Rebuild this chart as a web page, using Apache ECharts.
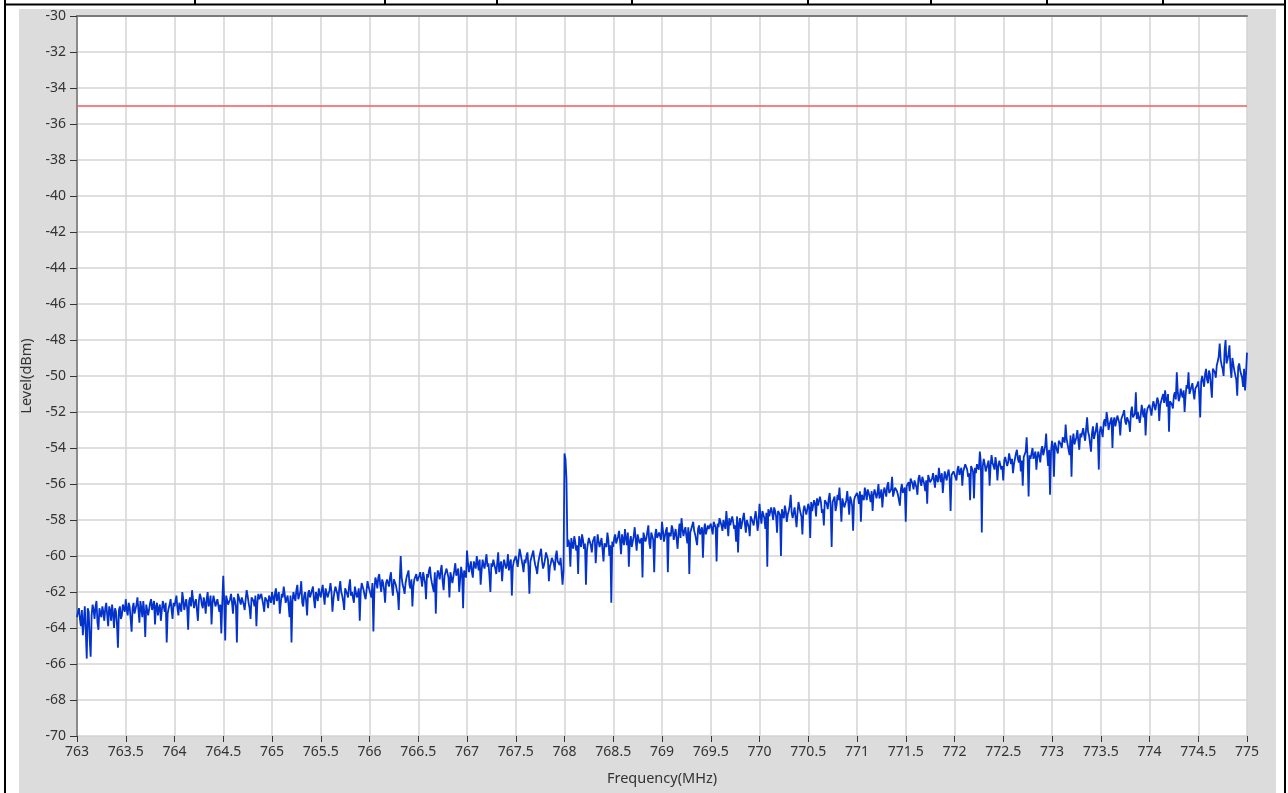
<!DOCTYPE html>
<html>
<head>
<meta charset="utf-8">
<script src="https://cdn.jsdelivr.net/npm/echarts@6/dist/echarts.min.js"></script>
<style>
html,body{margin:0;padding:0;background:#fff;}
#chart{width:1288px;height:793px;}
</style>
</head>
<body>
<div id="chart"></div>
<script>
// ---- data ----
const freqStart = 763.0;      // MHz, first sample
const freqStep = 0.01;        // MHz between samples (after interleaving)
const limitLevel = -35;       // dBm limit line
const xTicks = {min: 763, max: 775, interval: 0.5};
const yTicks = {min: -70, max: -30, interval: 2};
// measured level (dBm) at 763.00, 763.02, ... 775.00 (rows of 0.5 MHz)
const levelEven = [
-63.4,-62.9,-63.9,-64.4,-62.8,-65.7,-63.1,-65.6,-62.7,-63.5,-62.5,-64.1,-63.2,-62.8,-63.6,-62.6,-63.9,-63.0,-62.7,-64.0,-63.1,-65.1,-62.8,-63.3,-62.9,
-62.4,-63.3,-62.8,-64.2,-62.6,-63.1,-62.3,-63.7,-62.9,-62.5,-64.5,-62.8,-63.2,-62.4,-63.0,-63.8,-62.6,-62.9,-63.6,-62.5,-63.1,-64.8,-62.9,-62.4,-63.5,
-62.8,-62.2,-63.3,-62.5,-62.0,-63.0,-62.4,-64.1,-62.3,-61.9,-62.9,-62.4,-63.6,-62.1,-62.7,-62.3,-63.2,-62.0,-62.6,-63.8,-62.2,-62.8,-62.4,-63.1,-64.3,
-61.1,-64.7,-62.3,-62.8,-62.1,-63.2,-62.5,-64.8,-62.0,-62.7,-62.3,-63.0,-61.9,-62.6,-63.5,-62.2,-62.8,-63.9,-62.1,-62.5,-62.0,-63.1,-62.4,-62.9,-62.2,
-62.0,-62.7,-61.8,-62.4,-63.2,-62.1,-61.7,-62.6,-62.2,-63.4,-64.8,-62.0,-62.5,-61.6,-62.3,-61.4,-62.8,-62.0,-63.3,-61.9,-62.4,-61.7,-62.9,-62.2,-61.8,
-62.3,-61.6,-62.7,-61.9,-62.4,-61.5,-63.1,-62.0,-61.7,-62.5,-61.4,-62.2,-63.0,-61.8,-62.3,-61.3,-62.0,-62.6,-61.6,-62.1,-63.6,-61.5,-61.9,-62.4,-61.4,
-61.6,-62.3,-64.2,-61.2,-61.8,-61.0,-62.0,-61.5,-62.6,-61.3,-61.7,-60.9,-62.2,-61.4,-61.9,-63.0,-60.0,-61.6,-62.1,-61.2,-60.8,-61.8,-62.8,-61.3,-61.0,
-61.4,-60.9,-61.7,-61.0,-62.4,-61.2,-60.6,-61.5,-62.0,-63.2,-60.8,-61.3,-60.5,-61.9,-61.1,-60.7,-62.3,-60.9,-61.4,-60.4,-61.0,-62.0,-60.6,-62.9,-60.8,
-59.7,-60.9,-60.3,-61.2,-60.5,-60.0,-60.8,-61.6,-60.2,-60.7,-59.9,-60.4,-62.0,-60.6,-60.1,-61.0,-59.8,-60.5,-61.4,-60.2,-60.7,-59.9,-60.4,-62.2,-60.3,
-60.0,-60.6,-59.6,-60.2,-60.9,-60.4,-59.8,-62.1,-60.3,-59.7,-60.5,-61.0,-60.1,-59.6,-60.7,-60.2,-59.9,-61.4,-60.4,-60.0,-60.8,-59.7,-60.3,-60.1,-61.6,
-54.3,-55.7,-59.1,-60.6,-59.4,-58.9,-59.7,-61.0,-59.2,-58.8,-59.6,-61.6,-59.3,-58.9,-59.8,-59.1,-60.4,-58.8,-59.5,-59.0,-60.3,-59.2,-58.7,-60.0,-62.6,
-59.5,-58.8,-59.3,-58.6,-59.9,-59.1,-58.5,-59.4,-60.6,-58.9,-59.2,-58.4,-59.7,-58.8,-59.3,-61.2,-58.7,-59.0,-58.3,-59.6,-58.9,-60.9,-58.5,-59.1,-58.6,
-58.1,-59.2,-58.6,-60.9,-58.8,-58.3,-59.1,-58.5,-59.6,-58.2,-57.9,-58.9,-58.4,-59.3,-61.0,-58.6,-58.1,-58.8,-59.4,-58.3,-58.7,-60.1,-58.2,-58.9,-58.5,
-58.2,-58.8,-58.0,-60.3,-58.4,-57.9,-58.6,-58.1,-57.5,-58.9,-58.3,-57.8,-58.5,-59.2,-59.8,-57.9,-58.4,-57.6,-58.7,-58.0,-58.9,-57.7,-58.3,-57.5,-58.6,
-57.1,-58.2,-57.6,-58.5,-60.6,-57.8,-57.3,-58.0,-57.5,-58.7,-57.4,-60.0,-57.7,-57.2,-58.1,-57.5,-56.6,-57.9,-57.3,-58.4,-57.0,-57.6,-58.8,-57.2,-57.7,
-57.1,-59.0,-57.5,-56.9,-57.8,-57.2,-56.7,-57.6,-58.3,-56.9,-57.4,-56.5,-59.5,-57.0,-57.5,-56.6,-56.2,-58.1,-56.8,-57.2,-56.4,-57.7,-56.9,-58.6,-56.7,
-56.5,-57.1,-58.1,-56.6,-56.2,-56.9,-56.4,-57.0,-57.5,-56.3,-56.8,-56.0,-56.6,-57.3,-56.2,-56.7,-55.9,-56.5,-55.6,-56.8,-56.1,-56.6,-57.2,-56.0,-56.5,
-58.1,-56.0,-56.4,-55.7,-56.3,-55.8,-56.6,-55.5,-56.1,-55.6,-56.4,-57.1,-55.7,-56.0,-55.4,-56.2,-55.6,-55.1,-55.9,-56.5,-55.3,-55.8,-55.2,-57.5,-55.6,
-55.2,-55.8,-55.0,-55.5,-56.1,-55.3,-54.9,-55.6,-56.9,-55.1,-56.8,-55.4,-54.8,-54.2,-58.7,-54.6,-55.3,-54.9,-56.1,-54.4,-55.0,-54.5,-55.8,-54.7,-55.2,
-55.8,-54.5,-55.0,-54.3,-54.9,-55.4,-54.6,-54.1,-54.8,-55.3,-56.1,-54.4,-53.4,-56.7,-54.6,-54.0,-54.7,-55.2,-54.2,-54.8,-53.9,-54.5,-53.2,-55.0,-56.6,
-53.6,-55.6,-53.9,-54.3,-53.5,-54.0,-53.3,-52.7,-53.8,-54.4,-55.6,-53.2,-53.7,-53.0,-54.1,-53.4,-52.9,-53.6,-52.3,-53.3,-54.2,-52.8,-53.5,-52.6,-55.2,
-52.8,-53.4,-52.4,-52.0,-53.0,-52.6,-54.0,-52.3,-52.8,-52.1,-53.3,-52.5,-51.9,-52.7,-52.2,-53.1,-51.7,-52.4,-50.9,-52.0,-52.6,-51.6,-52.3,-53.3,-51.8,
-51.6,-52.2,-51.4,-51.9,-51.2,-52.5,-51.5,-51.0,-50.8,-51.7,-53.1,-51.3,-51.8,-50.9,-49.8,-51.4,-50.7,-51.2,-52.0,-50.5,-49.8,-51.0,-50.4,-51.3,-50.6,
-50.3,-52.3,-50.0,-50.6,-49.6,-50.4,-49.9,-51.2,-49.5,-50.1,-49.2,-48.2,-49.4,-50.0,-48.0,-49.1,-48.3,-50.1,-48.9,-49.6,-51.1,-49.3,-49.9,-50.6,-50.8,
-48.7
];
// measured level (dBm) at 763.01, 763.03, ... 774.99 (rows of 0.5 MHz)
const levelOdd = [
-63.1,-63.5,-63.0,-63.6,-64.2,-62.9,-64.6,-63.3,-63.0,-62.8,-63.7,-62.9,-63.4,-63.1,-62.9,-63.3,-62.8,-63.6,-63.2,-62.9,-63.8,-63.0,-63.5,-62.7,-63.1,
-63.0,-62.6,-63.5,-62.9,-63.2,-62.7,-63.0,-62.5,-63.4,-63.1,-62.7,-63.3,-62.6,-63.0,-62.5,-62.8,-63.3,-62.7,-63.0,-62.8,-62.6,-63.2,-62.7,-63.0,-62.6,
-62.5,-62.9,-62.6,-63.1,-62.4,-62.7,-62.9,-62.5,-62.8,-62.4,-62.6,-63.0,-62.5,-62.3,-62.9,-62.6,-62.4,-62.8,-62.2,-62.6,-62.5,-62.9,-62.3,-62.7,-62.6,
-62.5,-62.2,-62.7,-62.4,-62.6,-62.3,-62.8,-62.1,-62.5,-62.3,-62.7,-62.4,-62.2,-62.9,-62.3,-62.5,-62.2,-62.6,-62.4,-62.1,-62.7,-62.3,-62.5,-62.2,-62.6,
-62.3,-62.1,-62.5,-62.0,-62.6,-62.3,-62.1,-62.4,-62.7,-62.2,-62.5,-62.3,-61.9,-62.4,-62.0,-62.6,-62.2,-62.5,-62.1,-62.3,-61.9,-62.4,-62.0,-62.5,-62.1,
-61.9,-62.2,-61.8,-62.3,-61.9,-62.0,-62.4,-61.7,-62.1,-61.8,-62.0,-62.5,-61.8,-62.1,-61.7,-62.2,-61.9,-61.7,-62.3,-61.8,-62.0,-61.6,-62.2,-61.9,-61.7,
-61.8,-61.5,-61.9,-61.4,-61.2,-61.6,-61.3,-61.9,-61.5,-61.4,-61.2,-61.7,-61.3,-61.6,-62.1,-61.4,-61.2,-61.8,-61.5,-61.1,-61.6,-61.3,-61.7,-61.2,-61.4,
-61.1,-61.3,-60.9,-61.5,-61.0,-60.8,-61.2,-61.6,-60.9,-61.3,-61.0,-60.8,-61.4,-61.1,-60.7,-61.2,-60.9,-61.5,-60.8,-61.1,-60.7,-61.3,-61.0,-60.8,-61.2,
-60.4,-60.6,-60.9,-60.3,-60.7,-60.4,-60.2,-60.8,-60.5,-60.3,-60.6,-61.1,-60.4,-60.2,-60.7,-60.4,-60.9,-60.3,-60.6,-60.1,-60.5,-60.8,-60.2,-60.6,-60.4,
-60.3,-60.1,-59.9,-60.5,-60.2,-60.0,-60.6,-60.3,-59.9,-60.2,-60.7,-60.4,-60.0,-60.3,-60.5,-59.8,-60.2,-60.6,-60.1,-60.4,-60.0,-60.3,-60.5,-60.2,-60.8,
-54.6,-59.5,-59.3,-59.0,-59.6,-59.2,-59.4,-58.9,-59.5,-59.1,-59.3,-59.7,-59.0,-59.4,-59.2,-58.9,-59.5,-59.2,-59.6,-59.0,-59.3,-59.5,-59.1,-59.4,-59.2,
-59.0,-59.3,-58.9,-59.2,-58.8,-59.4,-59.0,-58.7,-59.2,-59.5,-58.9,-59.1,-58.8,-59.3,-59.0,-58.7,-59.2,-58.9,-59.3,-58.7,-59.1,-58.8,-59.0,-58.7,-59.1,
-58.6,-58.9,-58.4,-58.7,-58.9,-58.5,-58.8,-58.4,-58.7,-59.0,-58.5,-58.6,-58.9,-58.4,-58.7,-58.3,-58.6,-58.9,-58.5,-58.8,-58.4,-58.6,-58.8,-58.3,-58.6,
-58.5,-58.1,-58.4,-58.2,-57.9,-58.3,-58.0,-58.5,-58.2,-57.9,-58.4,-58.1,-58.3,-57.8,-58.2,-58.5,-57.9,-58.2,-58.0,-58.4,-57.8,-58.1,-58.3,-57.9,-58.2,
-57.8,-57.5,-57.9,-57.6,-57.4,-57.9,-57.6,-57.3,-57.8,-57.5,-57.7,-57.4,-57.9,-57.5,-57.7,-57.2,-57.6,-57.9,-57.4,-57.6,-57.3,-57.8,-57.5,-57.3,-57.6,
-57.3,-57.0,-57.4,-57.1,-56.8,-57.2,-57.0,-57.4,-56.9,-57.1,-56.8,-57.3,-57.0,-56.7,-57.2,-56.9,-57.1,-56.8,-57.3,-56.9,-57.0,-56.7,-57.2,-56.9,-56.8,
-56.7,-56.4,-56.6,-56.9,-56.5,-56.3,-56.7,-56.4,-56.6,-56.2,-56.5,-56.8,-56.3,-56.6,-56.4,-56.1,-56.5,-56.3,-56.7,-56.2,-56.4,-56.6,-56.3,-56.5,-56.2,
-56.1,-55.9,-55.7,-56.0,-55.8,-56.2,-55.7,-55.9,-55.6,-56.0,-55.8,-55.5,-55.9,-55.7,-55.8,-55.5,-55.9,-55.6,-55.4,-55.8,-55.6,-55.4,-55.7,-55.5,-55.3,
-55.4,-55.2,-55.5,-55.1,-55.3,-54.9,-55.2,-55.4,-55.0,-55.3,-55.1,-54.9,-55.2,-54.8,-55.0,-54.9,-55.1,-54.7,-55.0,-54.8,-55.2,-54.9,-55.0,-54.7,-55.0,
-54.7,-54.5,-54.8,-54.4,-54.6,-54.9,-54.3,-54.6,-54.4,-54.7,-54.5,-54.2,-54.6,-54.4,-54.3,-54.6,-54.2,-54.5,-54.3,-54.1,-54.4,-53.9,-54.3,-54.1,-54.2,
-53.9,-53.7,-54.0,-53.6,-53.8,-53.4,-53.7,-53.5,-53.9,-53.3,-53.6,-53.8,-53.4,-53.6,-53.2,-53.5,-53.3,-53.6,-53.1,-53.4,-53.2,-53.5,-53.0,-53.3,-53.1,
-52.9,-52.6,-52.8,-52.4,-52.7,-52.3,-52.5,-52.8,-52.2,-52.6,-52.4,-52.1,-52.5,-52.3,-52.6,-52.0,-52.3,-52.1,-52.4,-51.9,-52.2,-52.0,-51.8,-52.1,-51.9,
-51.9,-51.7,-51.5,-51.8,-51.4,-51.6,-51.2,-51.5,-51.3,-51.0,-51.4,-51.6,-51.1,-51.3,-50.9,-51.2,-51.0,-50.8,-51.1,-50.7,-51.0,-50.6,-50.9,-50.7,-50.5,
-51.0,-50.3,-50.1,-49.9,-50.2,-49.7,-50.0,-49.6,-49.8,-49.4,-48.9,-49.1,-49.6,-48.6,-49.3,-48.8,-49.5,-49.0,-49.7,-50.2,-49.5,-49.7,-50.1,-49.6,-49.9
];
const xName = 'Frequency(MHz)';
const yName = 'Level(dBm)';

// ---- build ----
const level = [];
levelEven.forEach((v, i) => { level.push(v); if (i < levelOdd.length) level.push(levelOdd[i]); });
const trace = level.map((v, i) => [+(freqStart + i * freqStep).toFixed(2), v]);
const limit = [[xTicks.min, limitLevel], [xTicks.max, limitLevel]];

const FONT = 'Noto Sans';
const chart = echarts.init(document.getElementById('chart'), null, {renderer: 'canvas'});
chart.setOption({
  animation: false,
  backgroundColor: '#ffffff',
  textStyle: {fontFamily: FONT},
  graphic: [
    {type: 'rect', z: -100, shape: {x: 19, y: 9, width: 1257, height: 790}, style: {fill: '#dcdcdc'}},
    {type: 'line', z: -90, shape: {x1: 5, y1: 0, x2: 5, y2: 793}, style: {stroke: '#000', lineWidth: 2}},
    {type: 'line', z: -90, shape: {x1: 1285, y1: 0, x2: 1285, y2: 793}, style: {stroke: '#000', lineWidth: 2}},
    {type: 'line', z: -90, shape: {x1: 4, y1: 4.5, x2: 1286, y2: 4.5}, style: {stroke: '#000', lineWidth: 2}},
    ...[195, 385, 497, 632, 808, 931, 1047, 1163].map(x => ({
      type: 'line', z: -90, shape: {x1: x, y1: 0, x2: x, y2: 5}, style: {stroke: '#000', lineWidth: 2}
    }))
  ],
  grid: {left: 77, right: 41, top: 16, bottom: 57, show: true, backgroundColor: '#ffffff', borderWidth: 0},
  xAxis: [{
    type: 'value', min: xTicks.min, max: xTicks.max, interval: xTicks.interval,
    name: xName, nameLocation: 'middle', nameGap: 35,
    nameTextStyle: {color: '#333', fontSize: 14.5, fontFamily: FONT},
    axisLine: {show: true, onZero: false, lineStyle: {color: '#d4d4d4', width: 1}},
    axisTick: {show: true, length: 6, lineStyle: {color: '#333', width: 1}},
    axisLabel: {color: '#333', fontSize: 14, margin: 9, fontFamily: FONT},
    splitLine: {show: true, lineStyle: {color: '#d4d4d4', width: 1.5}}
  }, {
    type: 'value', position: 'top', min: xTicks.min, max: xTicks.max,
    axisLine: {show: true, onZero: false, lineStyle: {color: '#7a7a7a', width: 2}},
    axisTick: {show: false}, axisLabel: {show: false}, splitLine: {show: false}
  }],
  yAxis: {
    type: 'value', min: yTicks.min, max: yTicks.max, interval: yTicks.interval,
    name: yName, nameLocation: 'middle', nameGap: 41, nameRotate: 90,
    nameTextStyle: {color: '#333', fontSize: 14.5, fontFamily: FONT},
    axisLine: {show: true, onZero: false, lineStyle: {color: '#8a8a8a', width: 2}},
    axisTick: {show: true, length: 7, lineStyle: {color: '#333', width: 1}},
    axisLabel: {color: '#333', fontSize: 14, margin: 11, fontFamily: FONT},
    splitLine: {show: true, lineStyle: {color: '#d4d4d4', width: 1.5}}
  },
  series: [{
    type: 'line', name: 'limit', data: limit, showSymbol: false, silent: true,
    lineStyle: {color: '#f25a5a', width: 1.5}, z: 3
  }, {
    type: 'line', name: 'level', data: trace, showSymbol: false, sampling: null,
    lineStyle: {color: '#0433cc', width: 1.8}, z: 4
  }]
});
</script>
</body>
</html>
